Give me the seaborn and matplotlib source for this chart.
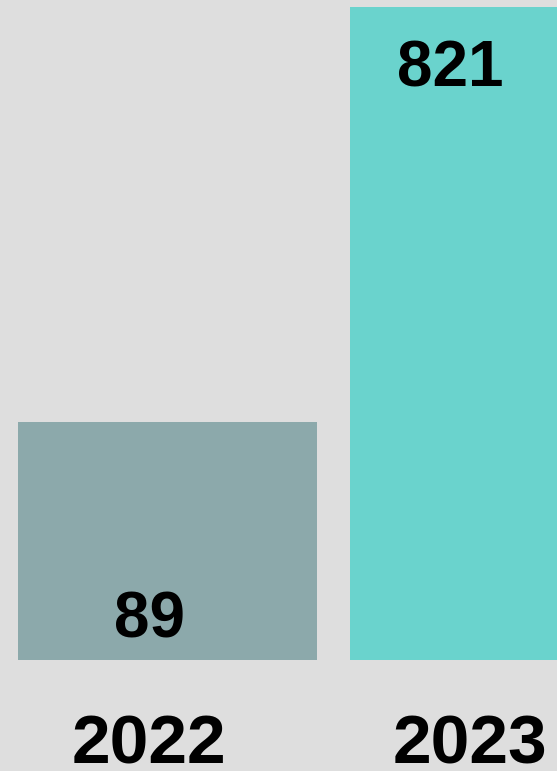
import matplotlib
matplotlib.use("Agg")
import matplotlib.pyplot as plt
import seaborn as sns
import pandas as pd

years = ["2022", "2023"]
values = [89, 821]
colors = ["#8CA9AB", "#6AD3CD"]

sns.set_theme(style="white")
plt.rcParams["font.family"] = ["Liberation Sans", "DejaVu Sans"]

W, H = 557, 771
fig = plt.figure(figsize=(W / 100, H / 100), dpi=100)
bg = "#DEDEDE"
fig.patch.set_facecolor(bg)

ax = fig.add_axes([0, (H - 660) / H, 1, (660 - 7) / H])
ax.set_facecolor(bg)

df = pd.DataFrame({"year": years, "value": values})
sns.barplot(data=df, x="year", y="value", hue="year", palette=colors,
            width=299 / 332, legend=False, ax=ax, saturation=1,
            linewidth=0, edgecolor="none")

unit = 332.0
ax.set_xlim(-167.5 / unit, (W - 167.5) / unit)
ymax = 89 * 653 / 238
ax.set_ylim(0, ymax)
for s in ax.spines.values():
    s.set_visible(False)
ax.set_xticks([])
ax.set_yticks([])
ax.set_xlabel("")
ax.set_ylabel("")

# value labels
label_px = [(149, 637), (450, 87)]
for (px, py), v in zip(label_px, values):
    xd = (px - 167.5) / unit
    yd = (660 - py) / 653 * ymax
    ax.text(xd, yd, str(v), ha="center", va="baseline",
            fontsize=46, fontweight="bold", color="black")

# year labels
year_px = [149, 470]
for px, y in zip(year_px, years):
    fig.text(px / W, (H - 763) / H, y, ha="center", va="baseline",
             fontsize=50, fontweight="bold", color="black")

fig.savefig("out.png", dpi=100, facecolor=bg)
